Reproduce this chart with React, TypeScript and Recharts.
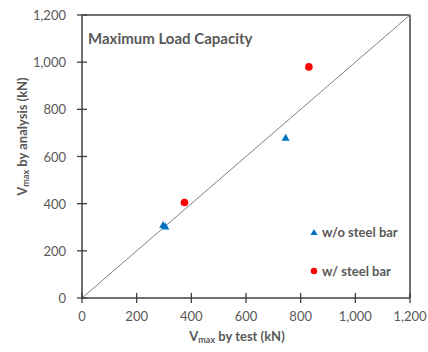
import React from 'react';
import { ScatterChart, Scatter, XAxis, YAxis, ReferenceLine, Label } from 'recharts';

const xTicks = [0, 200, 400, 600, 800, 1000, 1200];
const yTicks = [0, 200, 400, 600, 800, 1000, 1200];
const testWithout = [297, 305, 745];
const analysisWithout = [310, 303, 680];
const testWith = [375, 830];
const analysisWith = [405, 980];
const seriesNames = ['w/o steel bar', 'w/ steel bar'];
const title = 'Maximum Load Capacity';

const withoutData = testWithout.map((x, i) => ({ x, y: analysisWithout[i] }));
const withData = testWith.map((x, i) => ({ x, y: analysisWith[i] }));

const FONT = 'Lato, "Noto Sans", sans-serif';
const AXIS = '#404040';
const TEXT = '#595959';
const BLUE = '#0070C0';
const RED = '#FF0000';

const fmt = (v: number) => v.toLocaleString('en-US');

const TriShape = (p: any) => {
  const { cx, cy } = p;
  if (cx == null || cy == null) return <g />;
  return <polygon points={`${cx},${cy - 4} ${cx + 4},${cy + 3} ${cx - 4},${cy + 3}`} fill={BLUE} />;
};

const DotShape = (p: any) => {
  const { cx, cy } = p;
  if (cx == null || cy == null) return <g />;
  return <circle cx={cx} cy={cy} r={3.8} fill={RED} />;
};

const XTick = (p: any) => (
  <g>
    <line x1={p.x} x2={p.x} y1={p.y - 5} y2={p.y + 5} stroke={AXIS} strokeWidth={1.3} />
    <text x={p.x} y={p.y + 18} textAnchor="middle" dominantBaseline="central" fill={TEXT} fontSize={13} fontFamily={FONT}>
      {fmt(p.payload.value)}
    </text>
  </g>
);

const YTick = (p: any) => (
  <g>
    <line x1={p.x - 5} x2={p.x + 5} y1={p.y} y2={p.y} stroke={AXIS} strokeWidth={1.3} />
    <text x={p.x - 16} y={p.y} textAnchor="end" dominantBaseline="central" fill={TEXT} fontSize={13} fontFamily={FONT}>
      {fmt(p.payload.value)}
    </text>
  </g>
);

const XLabel = (props: any) => {
  const vb = props.viewBox;
  const cx = vb.x + vb.width / 2 - 9;
  return (
    <text x={cx} y={vb.y + 38} textAnchor="middle" dominantBaseline="central" fill={TEXT} fontSize={13} fontWeight="bold" fontFamily={FONT}>
      <tspan>V</tspan>
      <tspan fontSize={9} dy={3}>max</tspan>
      <tspan dy={-3}> by test (kN)</tspan>
    </text>
  );
};

const YLabel = (props: any) => {
  const vb = props.viewBox;
  const cx = 22;
  const cy = vb.y + vb.height / 2 - 20;
  return (
    <text x={cx} y={cy} transform={`rotate(-90, ${cx}, ${cy})`} textAnchor="middle" dominantBaseline="central" fill={TEXT} fontSize={13} fontWeight="bold" fontFamily={FONT}>
      <tspan>V</tspan>
      <tspan fontSize={9} dy={3}>max</tspan>
      <tspan dy={-3}> by analysis (kN)</tspan>
    </text>
  );
};

const LegendBox = () => (
  <div style={{ position: 'absolute', left: 309, top: 222, fontFamily: FONT, fontSize: 13, fontWeight: 'bold', color: TEXT, whiteSpace: 'nowrap' }}>
    <div style={{ display: 'flex', alignItems: 'center', height: 20 }}>
      <svg width={10} height={10} style={{ marginRight: 3 }}>
        <polygon points="5,2 8.5,8 1.5,8" fill={BLUE} />
      </svg>
      <span>{seriesNames[0]}</span>
    </div>
    <div style={{ display: 'flex', alignItems: 'center', height: 20, marginTop: 19 }}>
      <svg width={10} height={10} style={{ marginRight: 3 }}>
        <circle cx={5} cy={5} r={3.2} fill={RED} />
      </svg>
      <span>{seriesNames[1]}</span>
    </div>
  </div>
);

export default function App() {
  return (
    <div style={{ position: 'absolute', left: 0, top: 0, width: 428, height: 352, background: '#fff' }}>
      <ScatterChart width={428} height={352} margin={{ top: 15, right: 18, bottom: 0, left: 22 }}>
        <XAxis
          type="number"
          dataKey="x"
          domain={[0, 1200]}
          ticks={xTicks}
          interval={0}
          height={54}
          axisLine={{ stroke: AXIS, strokeWidth: 1.5 }}
          tickLine={false}
          tickSize={0}
          tickMargin={0}
          tick={<XTick />}
        >
          <Label content={<XLabel />} />
        </XAxis>
        <YAxis
          type="number"
          dataKey="y"
          domain={[0, 1200]}
          ticks={yTicks}
          interval={0}
          width={60}
          axisLine={{ stroke: AXIS, strokeWidth: 1.5 }}
          tickLine={false}
          tickSize={0}
          tickMargin={0}
          tick={<YTick />}
        >
          <Label content={<YLabel />} />
        </YAxis>
        <ReferenceLine y={1200} stroke={AXIS} strokeWidth={1.5} ifOverflow="visible" />
        <ReferenceLine x={1200} stroke={AXIS} strokeWidth={1.5} ifOverflow="visible" />
        <ReferenceLine segment={[{ x: 0, y: 0 }, { x: 1200, y: 1200 }]} stroke="#808080" strokeWidth={1} />
        <Scatter name={seriesNames[0]} data={withoutData} fill={BLUE} shape={<TriShape />} isAnimationActive={false} />
        <Scatter name={seriesNames[1]} data={withData} fill={RED} shape={<DotShape />} isAnimationActive={false} />
      </ScatterChart>
      <LegendBox />
      <div style={{ position: 'absolute', left: 88, top: 29, fontFamily: FONT, fontWeight: 'bold', fontSize: 15, color: TEXT, whiteSpace: 'nowrap' }}>
        {title}
      </div>
    </div>
  );
}
